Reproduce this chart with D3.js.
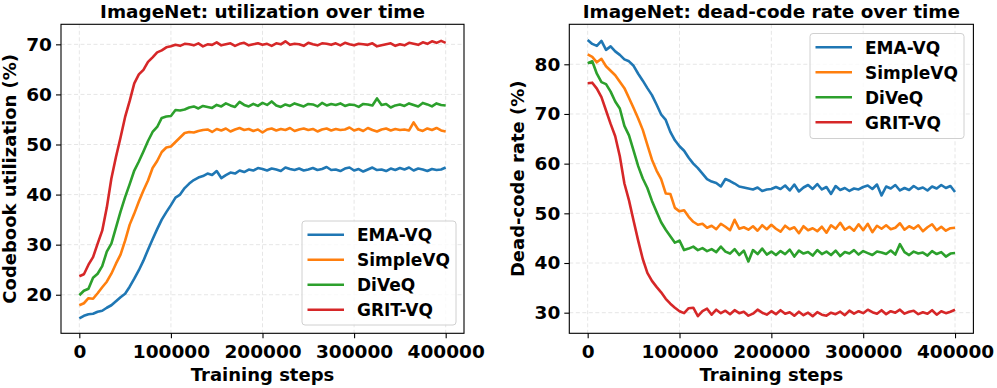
<!DOCTYPE html>
<html>
<head>
<meta charset="utf-8">
<title>ImageNet: utilization / dead-code rate</title>
<script src="https://cdn.jsdelivr.net/npm/d3@7/dist/d3.min.js"></script>
<style>
  * { margin:0; padding:0; }
  body { background:#fff; }
  svg text { font-family:"DejaVu Sans", sans-serif; font-weight:bold; fill:#000; }
</style>
</head>
<body>
<div id="show"></div>
<script>
// ---- data (one value every 5000 steps) ----
var methods = ["EMA-VQ", "SimpleVQ", "DiVeQ", "GRIT-VQ"];
var colors  = ["#1f77b4", "#ff7f0e", "#2ca02c", "#d62728"];
var xTicks  = [0, 100000, 200000, 300000, 400000];
var utilTicks = [20, 30, 40, 50, 60, 70];
var deadTicks = [30, 40, 50, 60, 70, 80];
var steps = d3.range(0, 400001, 5000);

var utilEMA = [15.3,15.8,16.1,16.2,16.6,16.8,17.4,17.9,18.7,19.5,
  20.2,21.6,23.2,24.9,26.8,29.0,31.1,33.1,35.0,36.5,
  37.9,39.4,40.0,41.3,42.2,42.9,43.4,43.7,44.2,43.9,
  44.7,43.3,43.9,44.4,44.2,44.8,44.5,45.0,44.8,45.3,
  45.1,44.8,45.2,45.0,44.7,45.4,45.1,44.9,45.2,44.8,
  45.0,45.3,44.9,45.1,45.5,44.9,45.0,44.7,45.2,45.4,
  44.8,45.1,44.6,45.0,45.4,44.9,45.0,44.7,45.2,44.9,
  45.3,45.0,45.4,44.8,45.2,45.0,44.7,45.1,44.9,45.0,
  45.4];
var utilSimple = [17.9,18.3,19.3,19.2,20.3,21.5,22.6,24.2,26.2,28.0,
  30.8,34.0,36.2,38.6,40.8,42.8,45.3,46.7,48.5,49.4,
  49.6,50.5,51.4,52.3,52.5,52.4,52.7,52.9,53.0,52.5,
  53.1,52.8,53.2,52.6,53.0,53.3,52.9,53.1,52.7,53.0,
  52.4,53.0,53.2,52.8,53.1,52.9,53.3,52.7,53.0,53.2,
  52.9,53.1,52.6,53.0,53.2,52.8,53.1,52.9,53.0,53.4,
  52.8,53.1,52.7,53.3,52.9,52.6,53.0,53.2,52.8,53.1,
  52.9,53.0,52.8,54.4,53.0,52.7,53.2,52.9,53.3,52.8,
  52.6];
var utilDiveq = [19.9,20.8,21.2,23.4,24.2,25.7,28.6,30.2,33.4,36.6,
  39.5,42.1,44.8,46.6,48.6,50.7,52.5,53.5,55.3,55.6,
  55.7,56.9,56.8,57.0,57.4,57.6,57.2,57.7,57.5,57.3,
  57.9,57.6,58.2,57.8,57.5,58.5,57.9,57.6,58.1,57.7,
  58.3,57.9,58.6,57.8,57.5,58.0,57.7,58.2,57.9,57.6,
  58.1,58.0,57.6,58.3,57.8,58.1,57.9,58.2,57.7,58.0,
  57.9,57.5,58.1,58.0,57.8,59.2,57.9,58.1,57.4,57.8,
  58.0,57.7,58.2,57.9,57.6,58.3,58.0,57.6,58.2,57.9,
  57.8];
var utilGrit = [23.7,24.1,26.0,27.5,30.2,32.8,37.4,43.2,47.5,51.4,
  55.5,58.7,62.2,64.0,64.9,66.5,67.4,68.4,68.8,69.4,
  69.6,69.9,69.7,70.1,70.0,69.8,70.2,69.6,70.0,69.9,
  70.4,69.8,70.0,70.2,69.7,70.1,70.3,69.8,70.0,70.2,
  69.9,70.1,69.7,70.2,70.0,70.6,69.9,70.1,70.0,69.7,
  70.3,70.0,69.8,70.2,70.1,69.9,70.2,69.8,70.3,70.0,
  69.8,70.1,70.0,69.9,70.2,69.6,69.8,70.0,70.2,69.7,
  70.0,69.8,70.3,70.1,69.9,70.4,70.1,70.6,70.3,70.7,
  70.3];

var deadEMA = [84.9,84.1,83.7,84.7,82.9,83.6,82.6,81.9,81.0,80.6,
  79.7,78.1,76.7,75.2,73.8,71.9,69.9,68.8,66.4,64.7,
  63.5,62.6,61.2,60.0,59.1,58.0,56.9,56.4,56.1,55.4,
  56.9,56.5,56.0,55.4,55.2,55.0,54.8,55.2,54.5,54.8,
  54.9,55.3,54.9,55.6,54.6,55.8,54.4,55.2,55.7,54.9,
  55.9,54.8,55.3,53.9,55.5,54.7,55.1,54.5,55.0,54.8,
  55.3,55.6,54.9,55.8,53.6,55.4,55.0,55.7,54.6,55.1,
  54.7,55.5,54.9,55.2,54.6,55.4,55.0,55.7,55.1,55.5,
  54.3];
var deadSimple = [82.0,81.5,80.4,81.1,79.6,78.7,77.8,76.5,75.2,73.2,
  71.2,69.1,66.8,63.8,60.8,58.6,56.9,54.0,53.9,51.1,
  50.4,50.6,49.3,48.3,47.7,47.9,47.1,47.5,46.8,47.9,
  47.3,46.6,48.7,46.9,47.2,46.7,47.4,46.5,47.6,46.8,
  47.7,46.9,46.3,47.5,46.8,47.2,46.0,47.4,46.6,47.0,
  46.4,47.3,46.1,47.6,46.9,48.1,46.7,47.3,46.5,47.8,
  46.6,47.9,46.2,47.5,46.9,47.6,46.8,47.1,48.0,46.7,
  47.4,46.9,47.6,46.4,47.2,47.8,46.6,47.3,46.5,47.0,
  47.1];
var deadDiveq = [80.2,80.6,78.1,76.4,76.0,74.5,72.5,71.1,67.6,65.7,
  62.6,59.5,57.0,55.1,52.5,50.3,48.2,46.7,45.4,44.1,
  44.5,42.6,42.9,43.3,42.6,43.0,42.4,42.8,42.2,43.3,
  42.3,41.9,42.8,41.6,42.5,40.3,42.6,41.8,42.9,41.7,
  42.3,41.6,42.4,41.8,42.7,41.3,42.5,41.9,42.2,41.5,
  42.6,41.8,42.3,41.6,42.5,41.4,42.2,41.9,42.6,41.7,
  42.4,42.0,41.6,42.3,42.1,41.8,42.5,41.7,43.8,42.2,
  41.6,42.3,41.9,42.1,41.5,42.4,41.8,42.2,41.3,41.9,
  42.0];
var deadGrit = [76.2,76.3,75.1,73.4,70.7,68.0,65.5,61.5,56.0,52.6,
  48.5,44.5,40.8,38.0,36.4,35.2,34.1,32.8,31.8,31.0,
  30.3,29.9,30.9,31.0,29.3,30.3,30.8,29.6,30.6,29.9,
  30.4,29.7,30.5,29.9,30.2,29.4,29.8,30.6,30.0,29.6,
  30.3,29.7,30.5,29.8,30.1,29.4,30.2,29.5,30.0,29.3,
  30.1,29.6,29.4,30.0,29.7,30.2,29.5,30.4,29.8,30.3,
  29.9,30.6,30.1,29.8,30.5,29.7,30.3,30.0,30.6,29.8,
  30.2,30.4,29.7,30.1,29.8,30.5,29.6,30.3,29.9,30.2,
  30.6];

// ---- layout ----
var svg = d3.select("#show").append("svg")
  .attr("width", 997).attr("height", 388);

var panels = [
  { title:"ImageNet: utilization over time", ylabel:"Codebook utilization (%)",
    series:[utilEMA, utilSimple, utilDiveq, utilGrit], yTicks:utilTicks,
    yDomain:[12.3, 74.0], left:61, right:464, labelX:15.5,
    legend:{ x:302, y:221, w:154, h:104 } },
  { title:"ImageNet: dead-code rate over time", ylabel:"Dead-code rate (%)",
    series:[deadEMA, deadSimple, deadDiveq, deadGrit], yTicks:deadTicks,
    yDomain:[25.85, 88.05], left:569.3, right:973.4, labelX:524,
    legend:{ x:810, y:33.5, w:154, h:105 } }
];
var plotTop = 24.3, plotBottom = 333.3;

panels.forEach(function(p){
  var x = d3.scaleLinear().domain([-20000, 420000]).range([p.left, p.right]);
  var y = d3.scaleLinear().domain(p.yDomain).range([plotBottom, plotTop]);
  var g = svg.append("g");

  // grid
  g.selectAll(".gx").data(xTicks).enter().append("line")
    .attr("x1", function(d){ return x(d); }).attr("x2", function(d){ return x(d); })
    .attr("y1", plotTop).attr("y2", plotBottom)
    .attr("stroke", "#e3e3e3").attr("stroke-width", 0.9).attr("stroke-dasharray", "4,2.5");
  g.selectAll(".gy").data(p.yTicks).enter().append("line")
    .attr("x1", p.left).attr("x2", p.right)
    .attr("y1", function(d){ return y(d); }).attr("y2", function(d){ return y(d); })
    .attr("stroke", "#e3e3e3").attr("stroke-width", 0.9).attr("stroke-dasharray", "4,2.5");

  // lines
  var line = d3.line()
    .x(function(d, i){ return x(steps[i]); })
    .y(function(d){ return y(d); });
  p.series.forEach(function(s, i){
    g.append("path").datum(s)
      .attr("d", line)
      .attr("fill", "none")
      .attr("stroke", colors[i])
      .attr("stroke-width", 2.6)
      .attr("stroke-linejoin", "round");
  });

  // axes
  var ax = g.append("g").attr("transform", "translate(0," + plotBottom + ")")
    .call(d3.axisBottom(x).tickValues(xTicks).tickFormat(d3.format("d"))
      .tickSize(5).tickPadding(6.5));
  var ay = g.append("g").attr("transform", "translate(" + p.left + ",0)")
    .call(d3.axisLeft(y).tickValues(p.yTicks).tickSize(5).tickPadding(4));
  [ax, ay].forEach(function(a){
    a.select(".domain").remove();
    a.selectAll("line").attr("stroke", "#000").attr("stroke-width", 1.1);
    a.selectAll("text").attr("font-size", "18.5px")
      .attr("font-family", "DejaVu Sans, sans-serif").attr("font-weight", "bold");
  });

  // frame
  g.append("rect")
    .attr("x", p.left).attr("y", plotTop)
    .attr("width", p.right - p.left).attr("height", plotBottom - plotTop)
    .attr("fill", "none").attr("stroke", "#000").attr("stroke-width", 1.1);

  // texts
  g.append("text").attr("x", (p.left + p.right) / 2).attr("y", 17.5)
    .attr("text-anchor", "middle").attr("font-size", "18.4px").text(p.title);
  g.append("text").attr("x", (p.left + p.right) / 2).attr("y", 381)
    .attr("text-anchor", "middle").attr("font-size", "18px").text("Training steps");
  g.append("text")
    .attr("transform", "translate(" + p.labelX + "," + ((plotTop + plotBottom) / 2) + ") rotate(-90)")
    .attr("text-anchor", "middle").attr("font-size", "18px").text(p.ylabel);

  // legend
  var L = p.legend;
  var lg = g.append("g");
  lg.append("rect").attr("x", L.x).attr("y", L.y).attr("width", L.w).attr("height", L.h)
    .attr("rx", 3).attr("fill", "#fff").attr("fill-opacity", 0.8)
    .attr("stroke", "#d0d0d0").attr("stroke-width", 1);
  methods.forEach(function(m, i){
    var ly = L.y + 13.7 + i * 25;
    lg.append("line").attr("x1", L.x + 5.5).attr("x2", L.x + 42)
      .attr("y1", ly).attr("y2", ly)
      .attr("stroke", colors[i]).attr("stroke-width", 2.6);
    lg.append("text").attr("x", L.x + 55).attr("y", ly + 6.3)
      .attr("font-size", "17px").text(m);
  });
});
</script>
</body>
</html>
